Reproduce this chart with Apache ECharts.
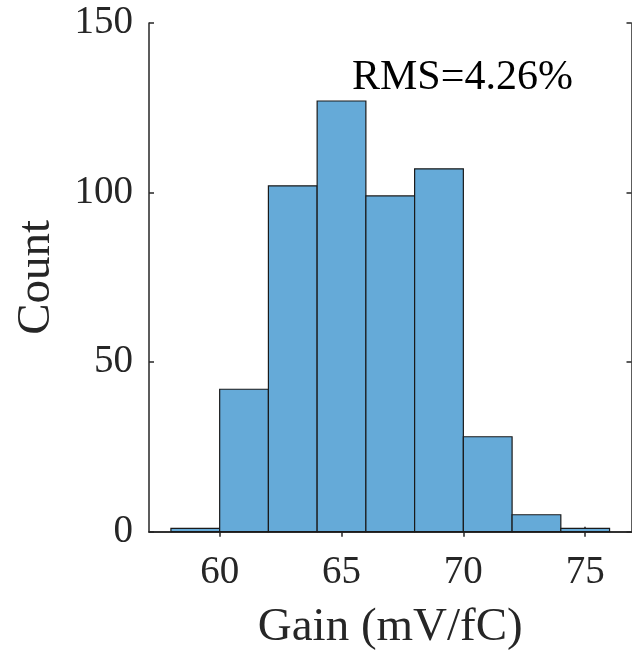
<!DOCTYPE html>
<html>
<head>
<meta charset="utf-8">
<script src="https://cdn.jsdelivr.net/npm/echarts@6/dist/echarts.min.js"></script>
<style>
html,body{margin:0;padding:0;background:#fff;}
#c{width:632px;height:650px;}
</style>
</head>
<body>
<div id="c"></div>
<script>
// Data
const binEdges = [58, 60, 62, 64, 66, 68, 70, 72, 74, 76];
const counts = [1, 42, 102, 127, 99, 107, 28, 5, 1];
const xTicks = [60, 65, 70, 75];
const yTicks = [0, 50, 100, 150];
const annotation = 'RMS=4.26%';
const xName = 'Gain (mV/fC)';
const yName = 'Count';

const seriesData = counts.map((c, i) => [binEdges[i], binEdges[i + 1], c]);

const FONT = '"Liberation Serif", "Times New Roman", serif';
const TXT = '#262626';

const chart = echarts.init(document.getElementById('c'), null, {renderer: 'canvas'});

const axLine = {show: true, lineStyle: {color: TXT, width: 1.5}};

chart.setOption({
  animation: false,
  backgroundColor: '#fff',
  grid: {left: 149, top: 23, width: 482.5, height: 508.7, containLabel: false, outerBoundsMode: 'none'},
  xAxis: [
    {
      type: 'value', min: 57.1, max: 76.9, position: 'bottom',
      axisLine: axLine,
      axisTick: {show: true, inside: true, length: 5, customValues: xTicks, lineStyle: {color: TXT, width: 1.5}},
      axisLabel: {show: true, customValues: xTicks, fontFamily: FONT, fontSize: 39, color: TXT, margin: 22},
      splitLine: {show: false},
      name: xName, nameLocation: 'middle', nameGap: 72,
      nameTextStyle: {fontFamily: FONT, fontSize: 47, color: TXT}
    },
    {
      type: 'value', min: 57.1, max: 76.9, position: 'top',
      axisLine: axLine,
      axisTick: {show: true, inside: true, length: 5, customValues: xTicks, lineStyle: {color: TXT, width: 1.5}},
      axisLabel: {show: false},
      splitLine: {show: false}
    }
  ],
  yAxis: [
    {
      type: 'value', min: 0, max: 150, interval: 50, position: 'left',
      axisLine: axLine,
      axisTick: {show: true, inside: true, length: 5, lineStyle: {color: TXT, width: 1.5}},
      axisLabel: {show: true, fontFamily: FONT, fontSize: 39, color: TXT, margin: 16},
      splitLine: {show: false},
      name: yName, nameLocation: 'middle', nameGap: 89,
      nameTextStyle: {fontFamily: FONT, fontSize: 47, color: TXT}
    },
    {
      type: 'value', min: 0, max: 150, interval: 50, position: 'right',
      axisLine: axLine,
      axisTick: {show: true, inside: true, length: 5, lineStyle: {color: TXT, width: 1.5}},
      axisLabel: {show: false},
      splitLine: {show: false}
    }
  ],
  series: [{
    type: 'custom',
    xAxisIndex: 0, yAxisIndex: 0,
    encode: {x: [0, 1], y: 2},
    data: seriesData,
    renderItem: function (params, api) {
      const p0 = api.coord([api.value(0), api.value(2)]);
      const p1 = api.coord([api.value(1), 0]);
      return {
        type: 'rect',
        shape: {x: p0[0], y: p0[1], width: p1[0] - p0[0], height: p1[1] - p0[1]},
        style: {fill: '#65aad8', stroke: '#1a1a1a', lineWidth: 1.2}
      };
    },
    z: 1
  }],
  graphic: [{
    type: 'text', left: 352, top: 57, z: 10,
    style: {text: annotation, font: '42px ' + FONT, fill: '#000'}
  }]
});
</script>
</body>
</html>
